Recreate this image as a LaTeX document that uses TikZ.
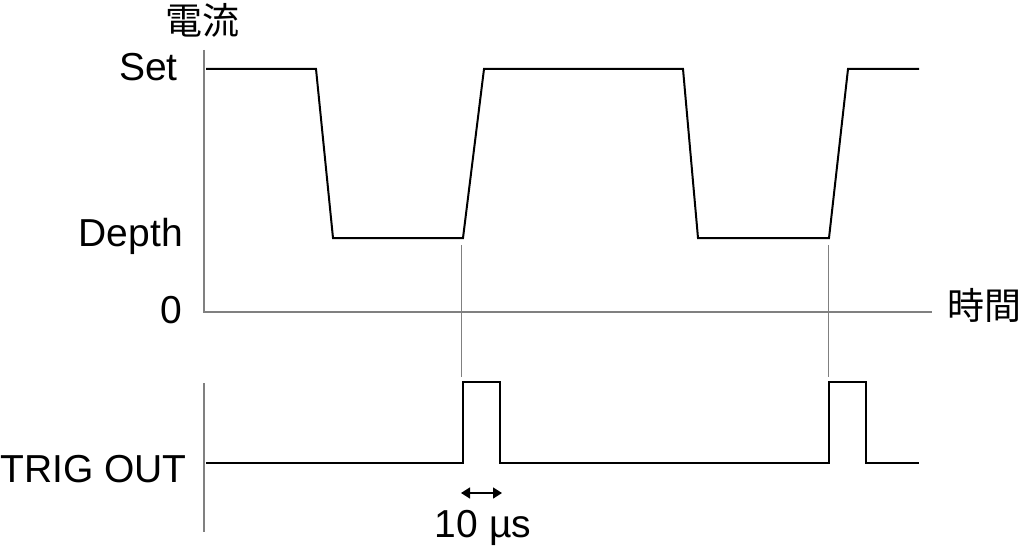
\documentclass[tikz,border=0pt]{standalone}
\usepackage{fontspec}
\setmainfont{Liberation Sans}
\newfontfamily\jpfont{Noto Sans CJK JP}
\usetikzlibrary{arrows.meta}

\begin{document}
\begin{tikzpicture}[
		x=1pt, y=-1pt,
		every node/.style={inner sep=0pt, font=\fontsize{39}{42}\selectfont},
		axis/.style={draw=black!50, line width=1.5pt},
		guide/.style={draw=black!50, line width=1pt},
		wave/.style={draw=black, line width=2pt, line join=miter},
		lvl/.style={anchor=base east}
	]
  \useasboundingbox (0,0) rectangle (1024,553);
  \node (I_label) [font=\fontsize{37}{40}\selectfont] at (202,20) {\jpfont 電流};
  \node (t_label) [font=\fontsize{37}{40}\selectfont] at (984,305) {\jpfont 時間};
  \node (set) [lvl] at (178,81) {Set};
  \node (depth) [lvl] at (183,247) {Depth};
  \node (zero) [lvl] at (182,323) {0};
  \node (trig) [lvl] at (187,482) {TRIG OUT};
  \node (width) [anchor=base] at (483,537) {10 µs};

  \coordinate (I_top) at (204,50);
  \coordinate (origin) at (204,312);
  \coordinate (t_end) at (932,312);
  \coordinate (trig_top) at (204,383);
  \coordinate (trig_bot) at (204,532);
  \draw [axis] (I_top) -- (origin) -- (t_end);
  \draw [axis] (trig_top) -- (trig_bot);

  \coordinate (g_1a) at (461,245);
  \coordinate (g_1b) at (461,377);
  \coordinate (g_2a) at (828,245);
  \coordinate (g_2b) at (828,377);
  \draw [guide] (g_1a) -- (g_1b);
  \draw [guide] (g_2a) -- (g_2b);

  \draw [wave] (206,69) -- (316,69) -- (333,238) -- (463,238) -- (484,69)
    -- (683,69) -- (698,238) -- (829,238) -- (848,69) -- (919,69);
  \draw [wave] (206,463) -- (463,463) -- (463,382) -- (500,382) -- (500,463)
    -- (829,463) -- (829,382) -- (866,382) -- (866,463) -- (919,463);

  \coordinate (w_l) at (461,493);
  \coordinate (w_r) at (502,493);
  \draw [line width=1.5pt, {Triangle[length=9pt,width=11pt]}-{Triangle[length=9pt,width=11pt]}] (w_l) -- (w_r);
\end{tikzpicture}
\end{document}
